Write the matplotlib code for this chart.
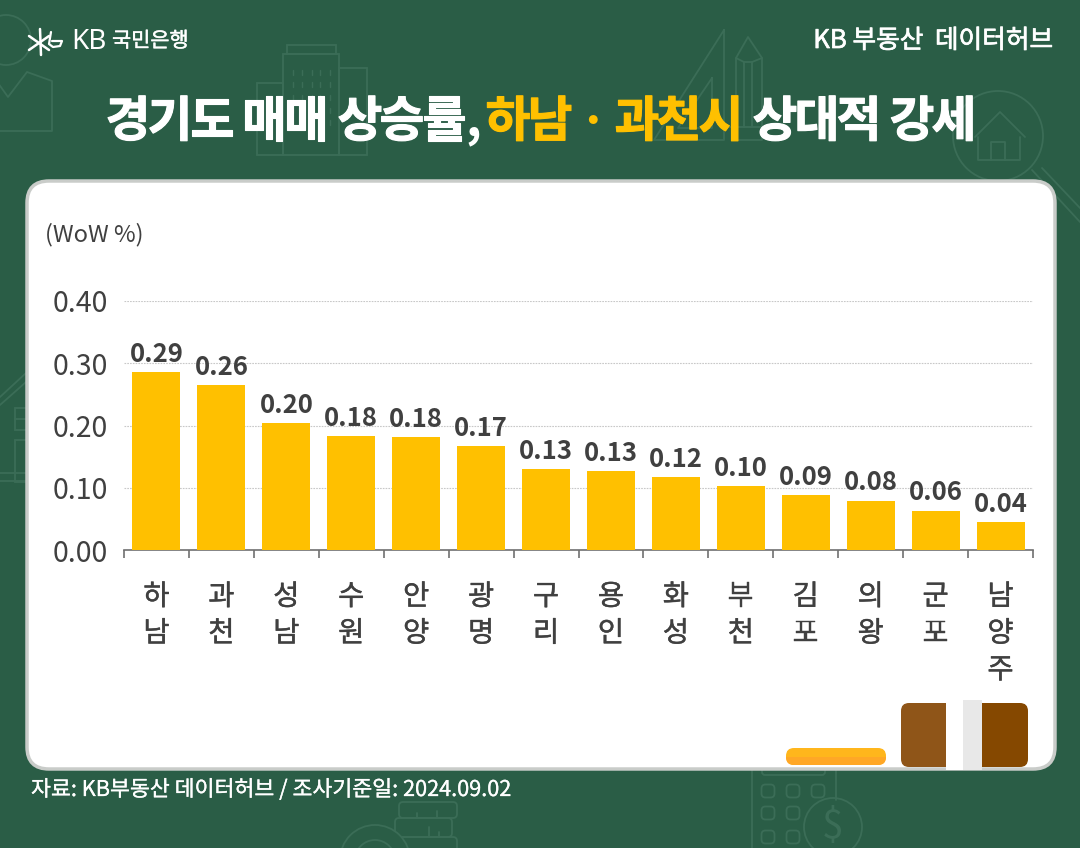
import matplotlib
matplotlib.use("Agg")
import matplotlib.pyplot as plt
import matplotlib.patheffects as pe
from matplotlib.patches import FancyBboxPatch, Circle, Rectangle

plt.rcParams['font.family'] = ['Noto Sans CJK KR', 'DejaVu Sans']

regions = ["하남", "과천", "성남", "수원", "안양", "광명", "구리", "용인", "화성", "부천", "김포", "의왕", "군포", "남양주"]
wow = [0.286, 0.265, 0.204, 0.183, 0.181, 0.167, 0.130, 0.127, 0.117, 0.103, 0.088, 0.079, 0.063, 0.045]
wow_labels = ["0.29", "0.26", "0.20", "0.18", "0.18", "0.17", "0.13", "0.13", "0.12", "0.10", "0.09", "0.08", "0.06", "0.04"]
y_ticks = [0.0, 0.1, 0.2, 0.3, 0.4]

BG = "#2A5D46"
DECO = "#3B6D57"
TEXT = "#404040"
YELLOW = "#FFC000"

W, H = 1080, 848
fig = plt.figure(figsize=(W / 100, H / 100), dpi=100, facecolor=BG)

# full figure layer in pixels for the background art and the card
bg = fig.add_axes([0, 0, 1, 1])
bg.set_xlim(0, W)
bg.set_ylim(H, 0)
bg.axis("off")


def heavy(color, lw):
    return [pe.withStroke(linewidth=lw, foreground=color)]


def line(xs, ys, color=DECO, lw=1.3):
    bg.plot(xs, ys, color=color, lw=lw, solid_capstyle="round", solid_joinstyle="round")


def box(x, y, w, h, color=DECO, lw=1.3):
    bg.add_patch(Rectangle((x, y), w, h, fill=False, ec=color, lw=lw))


def rbox(x, y, w, h, r, **kw):
    p = FancyBboxPatch((x + r, y + r), w - 2 * r, h - 2 * r,
                       boxstyle=f"round,pad={r},rounding_size={r}", **kw)
    bg.add_patch(p)
    return p


# top left person / chart
bg.add_patch(Circle((6, 40), 25, fill=False, ec=DECO, lw=1.3))
line([-2, 8, 27, 52, 52, -2], [83, 97, 72, 81, 131, 131])
# buildings
box(287, 45, 49, 9)
box(283, 54, 56, 101)
box(339, 68, 28, 87)
box(257, 83, 26, 72)
for yy in [70, 82, 95, 108, 120]:
    for xx in [293, 302, 312, 320, 330]:
        line([xx, xx], [yy, yy + 5], lw=1.0)
# ruler and pencil
line([724, 724, 654, 724], [30, 140, 140, 30])
line([712, 712, 678, 712], [78, 128, 128, 78])
line([736, 736, 748, 762, 762, 736], [140, 58, 37, 58, 140, 140])
line([736, 744, 752, 762], [58, 62, 62, 58])
line([744, 744], [62, 127])
line([752, 752], [62, 127])
line([724, 764], [127, 127])
# magnifier with a house
bg.add_patch(Circle((998, 136), 45, fill=False, ec=DECO, lw=1.3))
line([975, 1000, 1025], [137, 112, 137])
line([978, 978, 1020, 1020], [137, 160, 160, 137])
line([991, 991, 1005, 1005], [160, 142, 142, 160])
line([1032, 1080], [170, 222])
line([1042, 1080], [168, 208])
# house on the left edge
line([0, 26], [397, 373])
line([0, 26], [405, 382])
box(15, 408, 15, 22)
line([15, 30], [419, 419])
box(15, 440, 15, 42)
line([0, 26], [473, 473])
line([0, 26], [481, 481])
# calculator and coins at the bottom
line([752, 752], [770, 850])
line([836, 836], [770, 800])
rbox(762, 765, 63, 10, 3, fill=False, ec=DECO, lw=1.3)
for cx, cy in [(768, 791), (793, 791), (818, 791), (768, 813), (793, 813), (768, 837), (793, 837)]:
    rbox(cx - 6.5, cy - 6.5, 13, 13, 4, fill=False, ec=DECO, lw=1.3)
bg.add_patch(Circle((833, 827), 29, fc=BG, ec=DECO, lw=1.3))
bg.text(833, 827, "$", color=DECO, fontsize=28, ha="center", va="center")
rbox(399, 802, 58, 16, 4, fill=False, ec=DECO, lw=1.3)
rbox(395, 818, 57, 19, 4, fill=False, ec=DECO, lw=1.3)
rbox(398, 837, 59, 20, 4, fill=False, ec=DECO, lw=1.3)
line([417, 417], [813, 818])
line([437, 437], [811, 818])
line([429, 429], [827, 837])
line([439, 439], [832, 837])
bg.add_patch(Circle((375, 860), 35, fc=BG, ec=DECO, lw=1.3))
bg.add_patch(Circle((375, 860), 20, fill=False, ec=DECO, lw=1.3))

# card
rbox(27, 181, 1028, 588, 22, fc="white", ec="#C9CCC9", lw=2.5, zorder=3)

# decorations on the lower right of the card
rbox(786, 748, 100, 17, 8, fc="#FFB61C", ec="none", zorder=4)
low = rbox(786, 748, 100, 17, 8, fc="#FFA726", ec="none", zorder=4)
low.set_clip_path(Rectangle((786, 757), 100, 9, transform=bg.transData))
rbox(901, 703, 60, 64, 8, fc="#8F5518", ec="none", zorder=4)
rbox(968, 703, 60, 64, 8, fc="#854800", ec="none", zorder=4)
bg.add_patch(Rectangle((946, 700), 17, 70, fc="white", ec="none", zorder=5))
bg.add_patch(Rectangle((963, 700), 19, 70, fc="#E8E8E8", ec="none", zorder=5))

# header
bg.text(1053, 41, "KB 부동산  데이터허브", color="white", fontsize=18.5, ha="right", va="center", zorder=6,
        path_effects=heavy("white", 0.5))
bg.text(71, 42, "KB", color="white", fontsize=20, ha="left", va="center", zorder=6, family="Noto Sans")
bg.text(112, 41, "국민은행", color="white", fontsize=15, ha="left", va="center", zorder=6,
        path_effects=heavy("white", 0.3))
# logo star
line([29, 49], [36, 50], color="white", lw=1.8)
line([29, 49], [50, 36], color="white", lw=1.8)
line([40, 41], [29, 55], color="white", lw=1.8)
line([51, 49, 53, 60, 62, 52], [32, 44, 47, 46, 41, 41], color="white", lw=1.6)

# title words, set glyph by glyph because the original spacing is tight
title_words = [(107, "경기도", "white"), (243, "매매", "white"), (339, "상승률", "white"), (487, "하남", YELLOW),
               (616, "과천시", YELLOW), (754, "상대적", "white"), (891, "강세", "white")]
TITLE_STEP = 42
for tx, word, col in title_words:
    for i, ch in enumerate(word):
        bg.text(tx + TITLE_STEP * (i + 0.5), 122, ch, color=col, fontsize=35, fontweight="bold",
                ha="center", va="center", zorder=6, path_effects=heavy(col, 0.8))
bg.text(473, 122, ",", color="white", fontsize=35, fontweight="bold", ha="center", va="center", zorder=6)
bg.text(593, 122, "·", color=YELLOW, fontsize=35, fontweight="bold", ha="center", va="center", zorder=6)

bg.text(31, 790, "자료: KB부동산 데이터허브 / 조사기준일: 2024.09.02", color="white", fontsize=15.6,
        ha="left", va="center", zorder=6, path_effects=heavy("white", 0.2))
bg.text(45, 235, "(WoW %)", color=TEXT, fontsize=17, ha="left", va="center", zorder=6)

# chart: 0 at y=550, 0.40 at y=301, x from 124 to 1033
ax = fig.add_axes([124 / W, 1 - 550 / H, (1033 - 124) / W, (550 - 301) / H], zorder=2)
ax.patch.set_alpha(0)
x = list(range(len(regions)))
ax.set_axisbelow(True)
ax.bar(x, wow, width=0.74, color=YELLOW, zorder=3)
for xi, v, lab in zip(x, wow, wow_labels):
    ax.text(xi, v + 0.007, lab, ha="center", va="bottom", fontsize=18.5, fontweight="bold", color=TEXT, zorder=4)

ax.set_xlim(-0.5, len(regions) - 0.5)
ax.set_ylim(0, 0.4)
ax.set_yticks(y_ticks)
ax.set_yticklabels([f"{v:.2f}" for v in y_ticks], fontsize=20.5, color=TEXT)
ax.tick_params(axis="y", length=0, pad=11.5)
ax.grid(axis="y", color="#C8C8C8", lw=0.8, ls=(0, (1.5, 1)))
ax.set_xticks([i - 0.5 for i in range(len(regions) + 1)])
ax.set_xticklabels([])
ax.set_xticks(x, minor=True)
ax.set_xticklabels(["\n".join(r) for r in regions], minor=True, fontsize=20.5, color=TEXT, linespacing=1.29, va="top",
                   path_effects=heavy(TEXT, 0.3))
ax.tick_params(axis="x", which="major", length=6, width=1.2, color="#707070")
ax.tick_params(axis="x", which="minor", length=0, pad=23)
for s in ["top", "right", "left"]:
    ax.spines[s].set_visible(False)
ax.spines["bottom"].set_color("#707070")
ax.spines["bottom"].set_linewidth(1.2)

fig.savefig("out.png", dpi=100, facecolor=BG)
